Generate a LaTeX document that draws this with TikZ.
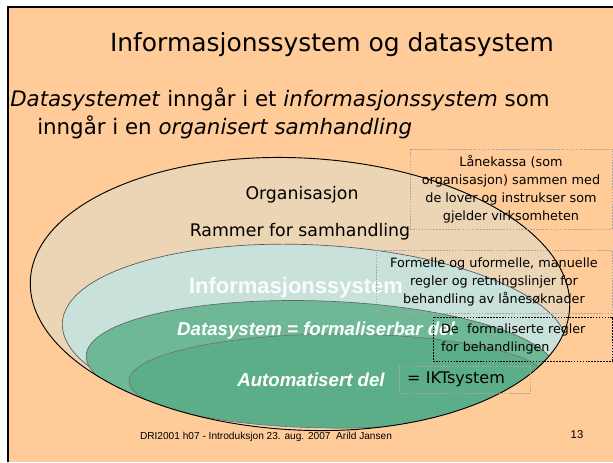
\documentclass[tikz,border=0pt]{standalone}
\usepackage{fontspec}
\setmainfont{DejaVu Sans}
\newfontfamily\arialfont{Liberation Sans}
\definecolor{slidebg}{RGB}{255,204,153}
\definecolor{orgfill}{RGB}{236,213,180}
\definecolor{infofill}{RGB}{200,225,218}
\definecolor{datafill}{RGB}{110,184,150}
\definecolor{autofill}{RGB}{92,174,136}
\newcommand{\orgshape}{[rotate around={-3:(300,294)}] (300,294) ellipse [x radius=270, y radius=136]}
\newcommand{\layer}[6]{\filldraw[fill=#1, draw=#2, line width=0.5pt, rotate around={#3:(#4)}] (#4) ellipse [x radius=#5, y radius=#6];}
\newcommand{\fs}[2]{\fontsize{#1}{#2}\selectfont}
\tikzset{
        notebox/.style={draw=gray!70, dash pattern=on 1.2pt off 1pt, line width=0.5pt, inner sep=0pt, align=center, font=\fs{9.6}{13.5}},
        whitelabel/.style={text=white, font=\arialfont\bfseries\itshape\fs{14}{16}},
        darklabel/.style={text=black, font=\fs{13}{15}}
}

\begin{document}
\begin{tikzpicture}[x=0.75pt, y=-0.75pt]
        \useasboundingbox (0,0) rectangle (613,462);
        \fill[white] (0,0) rectangle (613,462);
        \fill[slidebg] (8,7) rectangle (613,462);
        \draw[line width=1.5pt] (8,462) -- (8,7) -- (613,7);
        \node[anchor=base, font=\fs{18.7}{20}] (title) at (332,51) {Informasjonssystem og datasystem};
        \node[anchor=base west, inner sep=0pt, font=\fs{16}{18}] (sub1) at (10,106) {\textit{Datasystemet} inngår i et \textit{informasjonssystem} som};
        \node[anchor=base west, inner sep=0pt, font=\fs{16}{18}] (sub2) at (37,134) {inngår i en \textit{organisert samhandling}};
        \fill[orgfill] \orgshape;
        \begin{scope}
                \clip \orgshape;
                \layer{infofill}{black!65}{-3}{315,336}{253}{91};
                \layer{datafill}{black!60}{-2}{321,364}{235}{63};
                \layer{autofill}{black!55}{0}{339,381}{210}{47};
        \end{scope}
        \draw[line width=0.7pt] \orgshape;
        \node[darklabel] (org) at (302,195) {Organisasjon};
        \node[darklabel] (rammer) at (300,232) {Rammer for samhandling};
        \node[whitelabel, font=\arialfont\bfseries\fs{16.5}{18}, opacity=0.9] (infosys) at (296,288) {Informasjonssystem};
        \node[whitelabel] (datasys) at (316,331) {Datasystem = formaliserbar del};
        \node[whitelabel] (autodel) at (311,380) {Automatisert del};
        \node[notebox, minimum width=151.5pt, minimum height=60pt] (lanekassa) at (511,189) {Lånekassa (som\\organisasjon) sammen med\\de lover og instrukser som\\gjelder virksomheten};
        \node[notebox, minimum width=177pt, minimum height=47.25pt] (regler) at (494,281.5) {Formelle og uformelle, manuelle\\regler og retningslinjer for\\behandling av lånesøknader};
        \node[notebox, draw=black, minimum width=134.25pt, minimum height=33pt, inner xsep=6pt, text width=122pt, align=left, font=\fs{9.5}{13.5}] (formal) at (522.5,339) {De\ \ formaliserte regler\\for behandlingen};
        \node[notebox, minimum width=98.25pt, minimum height=20.25pt, inner xsep=6pt, text width=86pt, align=left, font=\fs{12}{13}] (ikt) at (464.5,379.5) {= IKTsystem};
        \node[font=\arialfont\fs{7.6}{9}] (footer) at (266,437) {DRI2001 h07 - Introduksjon 23. aug. 2007\ \ Arild Jansen};
        \node[font=\arialfont\fs{8.5}{10}] (pageno) at (577,435) {13};
\end{tikzpicture}
\end{document}
